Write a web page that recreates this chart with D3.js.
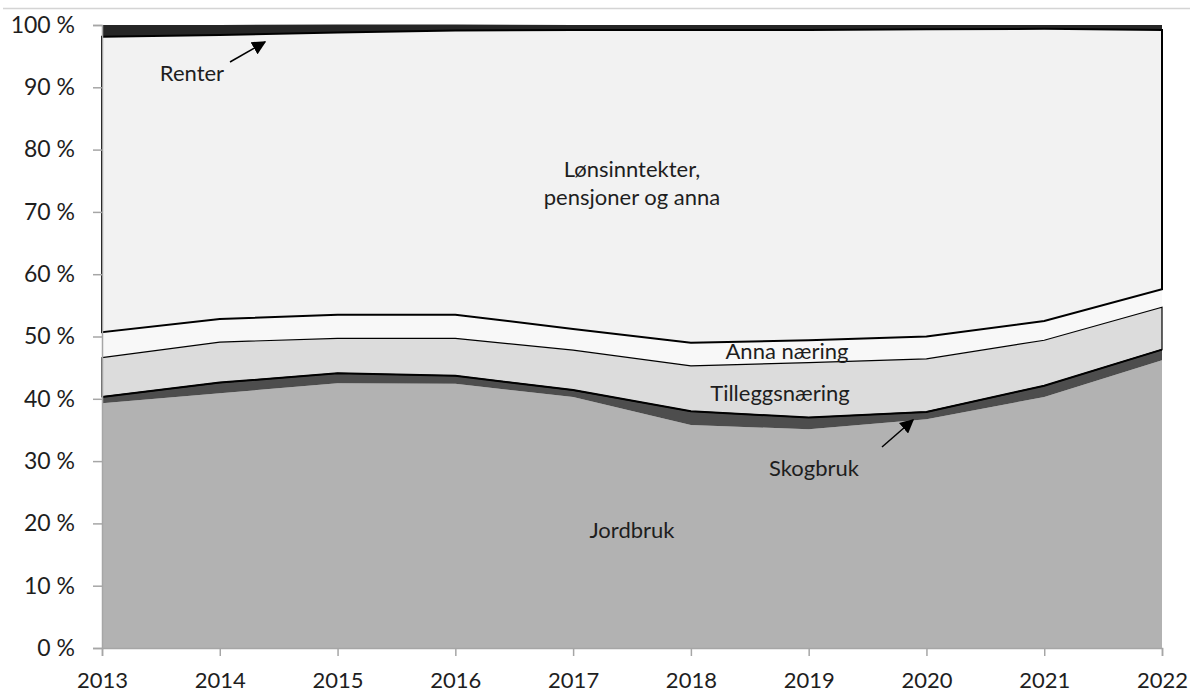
<!DOCTYPE html>
<html>
<head>
<meta charset="utf-8">
<script src="https://cdn.jsdelivr.net/npm/d3@7"></script>
<style>
  body { margin: 0; background: #fff; }
  #chart { width: 1198px; height: 695px; }
  text { font-family: Lato, "Open Sans", sans-serif; fill: #1e1e1e; }
</style>
</head>
<body>
<div id="chart"></div>
<script>
// data
var years = [2013, 2014, 2015, 2016, 2017, 2018, 2019, 2020, 2021, 2022]
var jordbruk = [39.3, 40.9, 42.5, 42.4, 40.3, 35.8, 35.1, 36.7, 40.3, 46.2]
var skogbruk = [1.0, 1.7, 1.6, 1.3, 1.1, 2.2, 1.9, 1.2, 1.8, 1.7]
var tillegg = [6.3, 6.5, 5.6, 6.0, 6.4, 7.3, 8.8, 8.5, 7.3, 6.8]
var anna = [4.1, 3.7, 3.8, 3.8, 3.4, 3.7, 3.6, 3.6, 3.1, 2.9]
var lons = [47.4, 45.6, 45.3, 45.6, 48.0, 50.2, 49.8, 49.3, 46.9, 41.6]
var renter = [1.9, 1.6, 1.3, 1.0, 0.8, 0.8, 0.8, 0.7, 0.6, 0.8]
var yTicks = [0, 10, 20, 30, 40, 50, 60, 70, 80, 90, 100]

var keys = ['jordbruk', 'skogbruk', 'tillegg', 'anna', 'lons', 'renter']
var colors = {
  jordbruk: '#b2b2b2', skogbruk: '#4d4d4d', tillegg: '#dcdcdc',
  anna: '#f8f8f8', lons: '#f2f2f2', renter: '#262626'
}
var rows = years.map(function (y, i) {
  return { year: y, jordbruk: jordbruk[i], skogbruk: skogbruk[i], tillegg: tillegg[i],
    anna: anna[i], lons: lons[i], renter: renter[i] }
})

var width = 1198, height = 695
var margin = { top: 25, right: 36, bottom: 47, left: 102 }
var mainWidth = width - margin.left - margin.right
var mainHeight = height - margin.top - margin.bottom

var svg = d3.select('#chart').append('svg').attr('width', width).attr('height', height)

// thin rule at the very top of the picture
svg.append('line').attr('x1', 3).attr('x2', 1190).attr('y1', 8.5).attr('y2', 8.5)
  .attr('stroke', '#d4d4d4').attr('stroke-width', 1.5)

var g = svg.append('g').attr('transform', 'translate(' + margin.left + ',' + margin.top + ')')

// scales
var x = d3.scaleLinear().domain([years[0], years[years.length - 1]]).range([0, mainWidth])
var y = d3.scaleLinear().domain([0, 100]).range([mainHeight, 0])

var series = d3.stack().keys(keys)(rows)
var byKey = {}
series.forEach(function (s) { byKey[s.key] = s })

var area = d3.area()
  .x(function (d) { return x(d.data.year) })
  .y0(function (d) { return y(d[0]) })
  .y1(function (d) { return y(d[1]) })

g.selectAll('path.layer')
  .data(series)
  .enter()
  .append('path')
  .attr('class', 'layer')
  .attr('d', area)
  .attr('fill', function (d) { return colors[d.key] })

// outlines like the original (tillegg and lons have a border, skogbruk top line)
g.append('path').datum(byKey.tillegg).attr('d', area)
  .attr('fill', 'none').attr('stroke', '#000').attr('stroke-width', 1.2)
g.append('path').datum(byKey.lons).attr('d', area)
  .attr('fill', 'none').attr('stroke', '#000').attr('stroke-width', 2)
var topLine = d3.line()
  .x(function (d) { return x(d.data.year) })
  .y(function (d) { return y(d[1]) })
g.append('path').datum(byKey.skogbruk).attr('d', topLine)
  .attr('fill', 'none').attr('stroke', '#000').attr('stroke-width', 2)

// axes
var yAxis = d3.axisLeft(y).tickValues(yTicks).tickSize(9).tickPadding(18)
  .tickFormat(function (d) { return d + ' %' })
var xAxis = d3.axisBottom(x).tickValues(years).tickSize(8).tickPadding(12)
  .tickFormat(function (d) { return d })

var ya = g.append('g').call(yAxis)
var xa = g.append('g').attr('transform', 'translate(0,' + mainHeight + ')').call(xAxis)
;[ya, xa].forEach(function (a) {
  a.select('.domain').attr('stroke', '#a6a6a6').attr('stroke-width', 1.5)
  a.selectAll('.tick line').attr('stroke', '#a6a6a6').attr('stroke-width', 1.5)
  a.selectAll('.tick text').attr('font-size', 23).attr('fill', '#1e1e1e')
    .attr('font-family', 'Lato, sans-serif')
})
xa.selectAll('.tick text').attr('font-size', 22).attr('dy', '0.9em')

// labels
var labels = [
  { t: 'Lønsinntekter,', x: 632, y: 177 },
  { t: 'pensjoner og anna', x: 632, y: 205 },
  { t: 'Anna næring', x: 787, y: 359 },
  { t: 'Tilleggsnæring', x: 780, y: 401 },
  { t: 'Skogbruk', x: 814, y: 476 },
  { t: 'Jordbruk', x: 632, y: 538 },
  { t: 'Renter', x: 192, y: 81 }
]
svg.selectAll('text.lbl')
  .data(labels)
  .enter()
  .append('text')
  .attr('class', 'lbl')
  .attr('x', function (d) { return d.x })
  .attr('y', function (d) { return d.y })
  .attr('text-anchor', 'middle')
  .attr('font-size', 22)
  .text(function (d) { return d.t })

// arrows
var defs = svg.append('defs')
defs.append('marker').attr('id', 'arr').attr('viewBox', '0 0 10 10')
  .attr('refX', 9).attr('refY', 5).attr('markerWidth', 14).attr('markerHeight', 14)
  .attr('markerUnits', 'userSpaceOnUse').attr('orient', 'auto')
  .append('path').attr('d', 'M0,0L10,5L0,10Z').attr('fill', '#000')

var arrows = [
  { x1: 230, y1: 62, x2: 265, y2: 42 },
  { x1: 882, y1: 447, x2: 913, y2: 420 }
]
svg.selectAll('line.arrow')
  .data(arrows)
  .enter()
  .append('line')
  .attr('class', 'arrow')
  .attr('x1', function (d) { return d.x1 })
  .attr('y1', function (d) { return d.y1 })
  .attr('x2', function (d) { return d.x2 })
  .attr('y2', function (d) { return d.y2 })
  .attr('stroke', '#000').attr('stroke-width', 1.5)
  .attr('marker-end', 'url(#arr)')
</script>
</body>
</html>
